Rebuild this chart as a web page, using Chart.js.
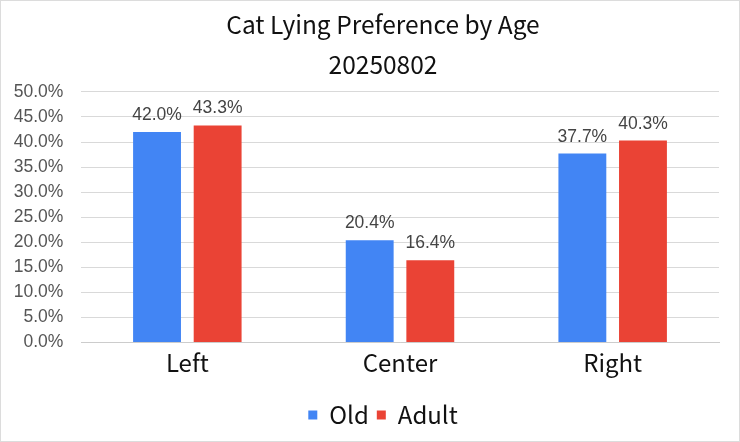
<!DOCTYPE html>
<html>
<head>
<meta charset="utf-8">
<script src="https://cdn.jsdelivr.net/npm/chart.js@4.4.1/dist/chart.umd.min.js"></script>
<style>
    html, body { margin: 0; padding: 0; background: #fff; }
    .contenedor { width: 738px; height: 440px; border: 1px solid #dcdcdc; }
</style>
</head>
<body>
<div class="contenedor">
    <canvas id="grafica" width="738" height="440"></canvas>
</div>
<script>
// Datos del grafico
const categorias = ['Left', 'Center', 'Right'];
const valoresOld = [42.0, 20.4, 37.7];
const valoresAdult = [43.3, 16.4, 40.3];
const titulo = ['Cat Lying Preference by Age', '20250802'];

const fuenteTitulo = "'Noto Sans CJK TC', 'Noto Sans', sans-serif";
const fuenteEjes = "'Liberation Sans', Arial, sans-serif";

function formatoPorcentaje(v) {
    return Number(v).toFixed(1) + '%';
}

// Etiquetas encima de cada barra
const etiquetasBarras = {
    id: 'etiquetasBarras',
    afterDatasetsDraw(chart) {
        const ctx = chart.ctx;
        ctx.save();
        ctx.font = '17.5px ' + fuenteEjes;
        ctx.fillStyle = '#444';
        ctx.textAlign = 'center';
        ctx.textBaseline = 'alphabetic';
        chart.data.datasets.forEach((ds, i) => {
            const meta = chart.getDatasetMeta(i);
            meta.data.forEach((barra, j) => {
                ctx.fillText(formatoPorcentaje(ds.data[j]), barra.x, barra.y - 12);
            });
        });
        ctx.restore();
    }
};

const ctx = document.getElementById('grafica').getContext('2d');
let myChart = new Chart(ctx, {
    type: 'bar',
    data: {
        labels: categorias,
        datasets: [{
            label: 'Old',
            data: valoresOld,
            backgroundColor: '#4285F4',
            barPercentage: 0.79,
            categoryPercentage: 0.57
        }, {
            label: 'Adult',
            data: valoresAdult,
            backgroundColor: '#EA4335',
            barPercentage: 0.79,
            categoryPercentage: 0.57
        }]
    },
    options: {
        responsive: false,
        animation: false,
        layout: {
            padding: { left: 46, right: 20, top: 0, bottom: 4 }
        },
        scales: {
            x: {
                afterFit(scale) { scale.height = 52.6; },
                grid: { display: false, drawTicks: false },
                border: { color: '#cccccc' },
                ticks: {
                    color: '#111',
                    font: { family: fuenteTitulo, size: 24 },
                    padding: 6
                }
            },
            y: {
                min: 0,
                max: 50,
                afterFit(scale) { scale.width = 34; },
                grid: { color: '#d9d9d9', drawTicks: false },
                border: { display: false },
                ticks: {
                    stepSize: 5,
                    // mirror evita el recorte; el padding negativo las deja a la izquierda
                    mirror: true,
                    crossAlign: 'far',
                    padding: -67.3,
                    color: '#555',
                    font: { family: fuenteEjes, size: 17.5 },
                    callback: v => formatoPorcentaje(v)
                }
            }
        },
        plugins: {
            title: {
                display: true,
                text: titulo,
                color: '#111',
                font: { family: fuenteTitulo, size: 24.5, weight: 'normal', lineHeight: 1.612 },
                padding: { top: 4.25, bottom: 7.7 }
            },
            legend: {
                position: 'bottom',
                labels: {
                    color: '#111',
                    font: { family: fuenteTitulo, size: 24 },
                    boxWidth: 9,
                    boxHeight: 9,
                    padding: 8
                }
            },
            tooltip: { enabled: false }
        }
    },
    plugins: [etiquetasBarras]
});
</script>
</body>
</html>
